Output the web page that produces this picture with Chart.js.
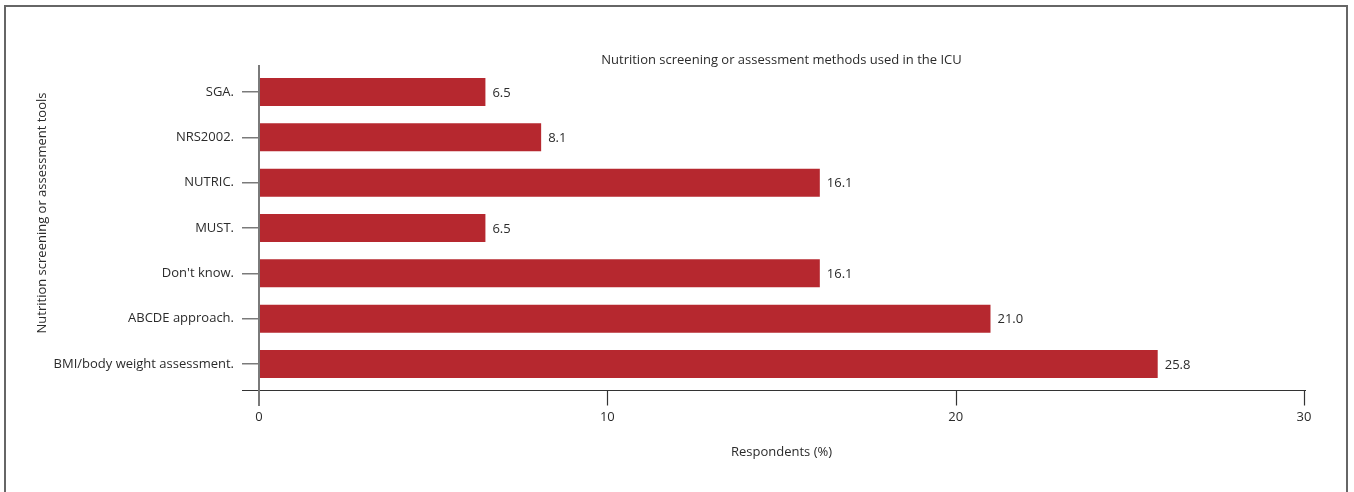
<!DOCTYPE html>
<html>
<head>
<meta charset="utf-8">
<title>Nutrition screening or assessment methods used in the ICU</title>
<script src="https://cdn.jsdelivr.net/npm/chart.js@4/dist/chart.umd.min.js"></script>
<style>
    html, body { margin: 0; padding: 0; background: #fff; overflow: hidden; }
    #wrap { position: relative; width: 1354px; height: 492px; }
    #frame {
        position: absolute; left: 4px; top: 5px; width: 1344px; height: 520px;
        border: 2px solid #666; box-sizing: border-box;
    }
    canvas { position: absolute; left: 0; top: 0; }
</style>
</head>
<body>
<div id="wrap">
    <div id="frame"></div>
    <canvas id="chart" width="1354" height="492"></canvas>
</div>
<script>
const TOOLS = [
    'SGA.',
    'NRS2002.',
    'NUTRIC.',
    'MUST.',
    "Don't know.",
    'ABCDE approach.',
    'BMI/body weight assessment.',
];
const RESPONDENTS = [6.5, 8.1, 16.1, 6.5, 16.1, 21.0, 25.8];
const X_TICKS = [0, 10, 20, 30];

const TITLE   = 'Nutrition screening or assessment methods used in the ICU';
const X_TITLE = 'Respondents (%)';
const Y_TITLE = 'Nutrition screening or assessment tools';

const FONT      = '"Open Sans", "Noto Sans", sans-serif';
const FONT_SIZE = 13;
const TEXT      = '#2b2b2b';
const BAR_RED   = '#b6282f';
const AXIS_GREY = '#7a7a7a';
const AXIS_DARK = '#333';

// axis lines, x tick marks, bar values and the rotated y title
const decorations = {
    id: 'decorations',
    afterDatasetsDraw(chart) {
        const { ctx, chartArea, scales } = chart;
        const x = scales.x;
        const axisY = chartArea.bottom + 3.8;

        ctx.save();

        // x axis line, running a little past the y axis
        ctx.strokeStyle = AXIS_DARK;
        ctx.lineWidth = 1.2;
        ctx.beginPath();
        ctx.moveTo(chartArea.left - 17, axisY);
        ctx.lineTo(chartArea.right + 2, axisY);
        ctx.stroke();

        X_TICKS.filter(v => v > 0).forEach(v => {
            const px = Math.round(x.getPixelForValue(v)) + 0.5;
            ctx.beginPath();
            ctx.moveTo(px, axisY);
            ctx.lineTo(px, axisY + 15);
            ctx.stroke();
        });

        // y axis line, extends below the x axis as the zero tick
        ctx.strokeStyle = AXIS_GREY;
        ctx.lineWidth = 2;
        ctx.beginPath();
        ctx.moveTo(chartArea.left, chartArea.top - 4.3);
        ctx.lineTo(chartArea.left, axisY + 15.5);
        ctx.stroke();

        // value labels
        ctx.fillStyle = TEXT;
        ctx.font = FONT_SIZE + 'px ' + FONT;
        ctx.textAlign = 'left';
        ctx.textBaseline = 'middle';
        chart.getDatasetMeta(0).data.forEach((bar, i) => {
            ctx.fillText(RESPONDENTS[i].toFixed(1), bar.x + 7, bar.y + 1);
        });

        ctx.translate(42, 213);
        ctx.rotate(-Math.PI / 2);
        ctx.textAlign = 'center';
        ctx.fillText(Y_TITLE, 0, 0);

        ctx.restore();
    },
};

new Chart(document.getElementById('chart'), {
    type: 'bar',
    data: {
        labels: TOOLS,
        datasets: [{
            data:               RESPONDENTS,
            backgroundColor:    BAR_RED,
            borderWidth:        0,
            barPercentage:      0.618,
            categoryPercentage: 1,
        }],
    },
    options: {
        indexAxis: 'y',
        responsive: false,
        animation: false,
        layout: { padding: { left: 0, top: 52.2, right: 50, bottom: 32.2 } },
        plugins: {
            legend:  { display: false },
            tooltip: { enabled: false },
            title: {
                display: true,
                text: TITLE,
                fullSize: false,
                color: TEXT,
                font: { family: FONT, size: FONT_SIZE, weight: 'normal' },
                padding: { top: 0, bottom: 1.5 },
            },
        },
        scales: {
            x: {
                min: 0,
                max: 30,
                afterBuildTicks: scale => { scale.ticks = X_TICKS.map(v => ({ value: v })); },
                afterFit: scale => { scale.height = 73.1; },
                grid:   { display: true, drawOnChartArea: false, color: 'rgba(0,0,0,0)', tickLength: 18 },
                border: { display: false },
                ticks:  { color: TEXT, padding: 5, maxRotation: 0, font: { family: FONT, size: FONT_SIZE } },
                title: {
                    display: true,
                    text: X_TITLE,
                    color: TEXT,
                    font: { family: FONT, size: FONT_SIZE },
                    padding: { top: 0, bottom: 0 },
                },
            },
            y: {
                afterFit: scale => { scale.width = 259; },
                grid:   { display: true, drawOnChartArea: false, offset: false, color: AXIS_GREY, lineWidth: 1.5, tickLength: 17 },
                border: { display: false },
                ticks:  { color: TEXT, padding: 8, font: { family: FONT, size: FONT_SIZE } },
            },
        },
    },
    plugins: [decorations],
});
</script>
</body>
</html>
